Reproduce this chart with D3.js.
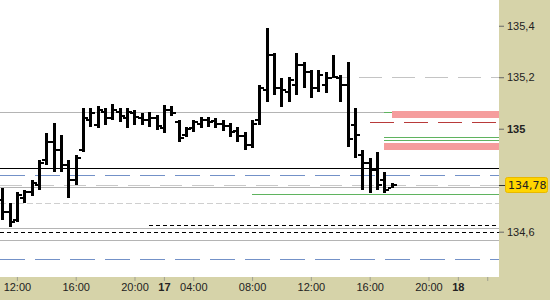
<!DOCTYPE html>
<html>
<head>
<meta charset="utf-8">
<script src="https://cdn.jsdelivr.net/npm/d3@7"></script>
<style>
  body { margin: 0; background: #fff; }
  svg { display: block; font-family: "DejaVu Sans", sans-serif; }
</style>
</head>
<body>
<div id="chart"></div>
<script>
// bar slots (30 min by day, hourly at night), index 0 = 12:00 on the 16th
var barIdx = d3.range(-2, 52);

var opens = [134.723,134.677,134.645,134.731,134.754,134.781,134.878,134.948,134.917,134.859,
  134.801,134.917,135.034,135.014,135.065,135.042,135.065,135.042,135.061,135.042,
  135.034,135.042,135.003,135.073,135.026,134.976,135.003,135.018,135.034,135.030,
  135.018,135.010,134.991,134.972,134.937,135.034,135.150,135.286,135.158,135.143,
  135.170,135.247,135.220,135.158,135.170,135.197,135.197,135.170,135.014,134.898,
  134.867,134.840,134.801,134.769];
var highs = [134.769,134.711,134.754,134.762,134.801,134.878,134.983,135.022,134.976,134.878,
  134.898,135.080,135.080,135.088,135.080,135.096,135.080,135.080,135.073,135.061,
  135.065,135.053,135.092,135.088,135.034,135.007,135.034,135.045,135.045,135.042,
  135.034,135.022,135.007,134.987,135.034,135.170,135.391,135.294,135.197,135.201,
  135.294,135.259,135.228,135.228,135.220,135.286,135.209,135.259,135.080,134.917,
  134.886,134.910,134.832,134.789];
var lows = [134.645,134.618,134.638,134.711,134.739,134.762,134.859,134.832,134.832,134.731,
  134.781,134.910,135.007,135.003,135.014,135.034,135.026,135.003,135.014,135.014,
  135.007,134.995,134.983,135.049,134.948,134.968,134.987,135.003,135.007,135.003,
  134.991,134.968,134.948,134.917,134.925,135.014,135.104,135.131,135.084,135.104,
  135.131,135.158,135.119,135.143,135.139,135.197,135.104,134.929,134.886,134.762,
  134.750,134.762,134.750,134.769];
var closes = [134.677,134.638,134.743,134.754,134.789,134.867,134.948,134.917,134.859,134.801,
  134.886,135.042,135.061,135.073,135.042,135.073,135.049,135.065,135.045,135.034,
  135.042,135.010,135.073,135.061,134.964,134.999,135.026,135.034,135.026,135.018,
  135.010,134.987,134.972,134.937,135.018,135.158,135.286,135.158,135.150,135.189,
  135.247,135.220,135.158,135.209,135.197,135.201,135.170,134.960,134.976,134.867,
  134.840,134.781,134.762,134.781];

// x axis
var tickIdx = [0, 8, 16, 20, 24, 32, 40, 48, 56, 60, 64];
var tickLabels = ["12:00", "16:00", "20:00", "17", "04:00", "08:00", "12:00", "16:00", "20:00", "18", ""];
var dayLabels = ["17", "18"];

// y axis
var yTicks = [134.6, 135, 135.2, 135.4];
var lastPrice = 134.78;

// horizontal levels
var greySolid = [135.065, 134.772, 134.613, 134.569];
var blackSolid = [134.847];
var blueDashed = [134.821, 134.494];
var greyDashed = [134.782];
var greyDotted = [134.712];
var blackDashed = [134.598];
var blackDashedFrom = [[134.625, 18]];
var greenFrom = [[134.748, 32], [134.968, 50], [134.957, 50], [135.066, 50]];
var redDashedFrom = [[135.026, 48]];
var greyDashedFrom = [[135.2, 42]];
var pinkZones = [[135.067, 135.041, 51], [134.945, 134.918, 50]];

var W = 550, H = 300, plotW = 499, plotH = 277;

var svg = d3.select("#chart").append("svg")
    .attr("width", W)
    .attr("height", H);

var x = d3.scaleLinear().domain([-2.3, 65.6]).range([0, plotW]);
var y = d3.scaleLinear().domain([134.424, 135.5]).range([plotH, 0]);

function py(v) { return Math.round(y(v)) + 0.5; }

// backgrounds
svg.append("rect").attr("width", W).attr("height", H).attr("fill", "#d6d3a9");
svg.append("rect").attr("width", plotW).attr("height", plotH).attr("fill", "#fff");

var lv = svg.append("g").attr("shape-rendering", "crispEdges");

function hline(list, color, dash, from) {
    lv.selectAll(null)
        .data(list)
        .enter()
        .append("line")
        .attr("x1", function (d) { return from ? Math.round(x(d[1])) : 0; })
        .attr("x2", plotW)
        .attr("y1", function (d) { return py(from ? d[0] : d); })
        .attr("y2", function (d) { return py(from ? d[0] : d); })
        .attr("stroke", color)
        .attr("stroke-dasharray", dash);
}

hline(greySolid, "#b4b4b4", null);
hline(greyDotted, "#cfcfcf", "6,3");
hline(greyDashed, "#c8c8c8", "22,10");
hline(blueDashed, "#7391c8", "25,10");
hline(blackDashed, "#000", "4,3");
hline(blackDashedFrom, "#000", "4,3", true);
hline(blackSolid, "#000", null);
hline(greyDashedFrom, "#c4c4c4", "23,10", true);
hline(greenFrom, "#5fb35f", null, true);
hline(redDashedFrom, "#b83a3a", "24,10", true);

// pink zones
lv.selectAll(null)
    .data(pinkZones)
    .enter()
    .append("rect")
    .attr("x", function (d) { return Math.round(x(d[2])); })
    .attr("y", function (d) { return Math.round(y(d[0])); })
    .attr("width", function (d) { return plotW - Math.round(x(d[2])); })
    .attr("height", function (d) { return Math.round(y(d[1])) - Math.round(y(d[0])); })
    .attr("fill", "#f59d9d");

// OHLC bars
var bars = svg.append("g").attr("shape-rendering", "crispEdges");
var bar = bars.selectAll("g")
    .data(barIdx)
    .enter()
    .append("g");

bar.append("rect")
    .attr("x", function (d) { return Math.round(x(d)) - 1; })
    .attr("y", function (d, i) { return Math.round(y(highs[i])); })
    .attr("width", 3)
    .attr("height", function (d, i) { return Math.max(2, Math.round(y(lows[i])) - Math.round(y(highs[i]))); })
    .attr("fill", "#000");
bar.append("rect")
    .attr("x", function (d) { return Math.round(x(d)) - 4; })
    .attr("y", function (d, i) { return Math.round(y(opens[i])) - 1; })
    .attr("width", 3)
    .attr("height", 2)
    .attr("fill", "#000");
bar.append("rect")
    .attr("x", function (d) { return Math.round(x(d)) + 2; })
    .attr("y", function (d, i) { return Math.round(y(closes[i])) - 1; })
    .attr("width", 3)
    .attr("height", 2)
    .attr("fill", "#000");

// right axis
var yAxis = svg.append("g")
    .attr("transform", "translate(" + plotW + ",0)")
    .call(d3.axisRight(y).tickValues(yTicks).tickSize(5).tickPadding(3)
        .tickFormat(function (d) { return String(d).replace(".", ","); }));
yAxis.select(".domain").remove();
yAxis.selectAll("line").attr("stroke", "#666");
yAxis.selectAll("text")
    .attr("font-size", 11)
    .attr("fill", "#222")
    .attr("font-weight", function (d) { return d === 135 ? "bold" : null; });

// bottom axis
var xAxis = svg.append("g")
    .attr("transform", "translate(0," + plotH + ")")
    .call(d3.axisBottom(x).tickValues(tickIdx).tickSize(4).tickPadding(2)
        .tickFormat(function (d, i) { return tickLabels[i]; }));
xAxis.select(".domain").remove();
xAxis.selectAll("line").attr("stroke", "#a0a090");
xAxis.selectAll("text")
    .attr("font-size", 11)
    .attr("fill", "#222")
    .attr("font-weight", function (d, i) { return dayLabels.indexOf(tickLabels[i]) >= 0 ? "bold" : null; });

// last price tag
var ly = Math.round(y(lastPrice));
svg.append("line")
    .attr("x1", plotW).attr("x2", plotW + 6)
    .attr("y1", ly + 0.5).attr("y2", ly + 0.5)
    .attr("stroke", "#333")
    .attr("shape-rendering", "crispEdges");
svg.append("rect")
    .attr("x", 505.5).attr("y", ly - 7.5)
    .attr("width", 42).attr("height", 15)
    .attr("rx", 2)
    .attr("fill", "#ffd500")
    .attr("stroke", "#e8b800");
svg.append("text")
    .attr("x", 508).attr("y", ly + 4)
    .attr("font-size", 11)
    .attr("fill", "#222")
    .text(String(lastPrice).replace(".", ","));
</script>
</body>
</html>
